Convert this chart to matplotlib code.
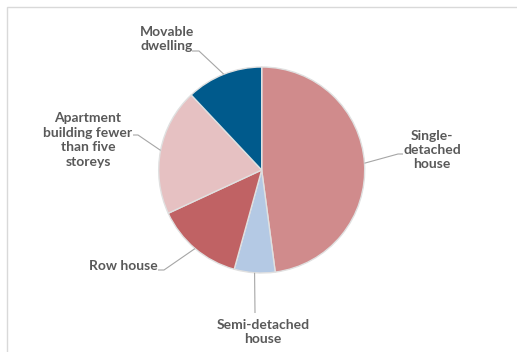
import numpy as np
import matplotlib.pyplot as plt
from matplotlib.patches import Rectangle

# data (shares of dwellings, %)
labels = ['Single-\ndetached\nhouse', 'Semi-detached\nhouse', 'Row house',
          'Apartment\nbuilding fewer\nthan five\nstoreys', 'Movable\ndwelling']
shares = [47.9, 6.4, 13.8, 19.9, 12.0]
colours = ['#D08B8C', '#B4C9E4', '#C06264', '#E6C1C2', '#005A8C']

# label placement in pixel coords (x, y from top), elbow of leader line, text anchor
W, H = 517, 352
text_pos = [(432, 150), (263, 332), (123, 266), (88, 140), (167, 39)]
elbows = [(398, 154), None, (164, 270), (138, 135), (199, 51)]
ends = [(403, 154), (255, 313), (158, 270), (133, 135), (192, 51)]

cx, cy, R = 261.7, 170, 103

fig = plt.figure(figsize=(W / 100, H / 100), dpi=100)
ax = fig.add_axes([0, 0, 1, 1])

# outer frame
fig.patches.append(Rectangle((7, H - 7 - 400), 600, 400, transform=None,
                             fill=False, edgecolor='#d9d9d9', lw=1))

wedges, _ = ax.pie(shares, colors=colours, startangle=90, counterclock=False,
                   center=(cx, H - cy), radius=R, frame=True,
                   wedgeprops=dict(edgecolor='#e0e0e0', linewidth=1))
ax.set_xlim(0, W)
ax.set_ylim(0, H)
ax.set_aspect('equal')
ax.axis('off')

for i, w in enumerate(wedges):
    mid = np.deg2rad((w.theta1 + w.theta2) / 2)
    px = cx + R * np.cos(mid)
    py = (H - cy) + R * np.sin(mid)
    xs = [px]
    ys = [py]
    if elbows[i] is not None:
        xs.append(elbows[i][0]); ys.append(H - elbows[i][1])
    xs.append(ends[i][0]); ys.append(H - ends[i][1])
    ax.plot(xs, ys, color='#a6a6a6', lw=0.8, solid_capstyle='butt')
    tx, ty = text_pos[i]
    ax.text(tx, H - ty, labels[i], ha='center', va='center',
            fontsize=10, fontweight='bold', color='#595959',
            family='Lato', linespacing=1.25)

fig.savefig('out.png', dpi=100)
